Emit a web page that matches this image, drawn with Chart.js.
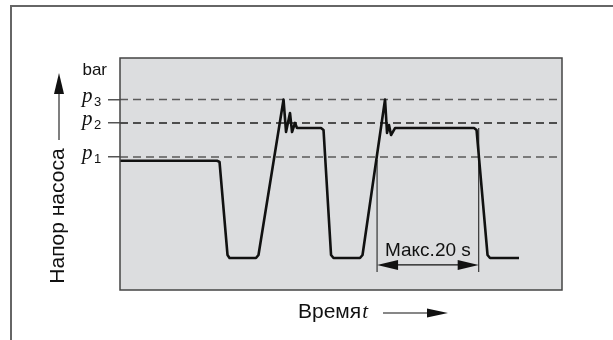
<!DOCTYPE html>
<html>
<head>
<meta charset="utf-8">
<script src="https://cdn.jsdelivr.net/npm/chart.js@4.4.0/dist/chart.umd.min.js"></script>
<style>
  html, body { margin: 0; padding: 0; background: #fff; }
  #wrap { width: 613px; height: 340px; position: relative; }
</style>
</head>
<body>
<div id="wrap"><canvas id="c"></canvas></div>
<script>
// time in s, pump head in bar (relative units)
const timeS = [0, 19.09, 19.59, 21.16, 21.56, 26.77, 27.26, 32.19, 32.68, 33.46, 33.86, 34.45, 34.84,
  39.57, 40.06, 41.54, 42.03, 47.24, 47.74, 52.17, 52.56, 52.95, 53.35, 54.13,
  69.69, 70.18, 72.34, 72.83, 78.54];
const headBar = [5.57, 5.57, 5.52, 1.51, 1.38, 1.38, 1.51, 8.21, 6.81, 7.63, 6.81, 7.20, 6.98,
  6.98, 6.90, 1.51, 1.38, 1.38, 1.51, 8.21, 6.77, 7.11, 6.68, 6.98,
  6.98, 6.90, 1.51, 1.38, 1.38];
const levelNames = ['1', '2', '3'];
const levelValues = [5.73, 7.20, 8.21];
const levelColors = ['#5a5a5a', '#1e1e1e', '#5a5a5a'];
const maxSpan = [50.6, 70.6];   // "Макс.20 s"
const maxSpanTops = [5.6, 6.98];
const xRange = [0, 87];
const yRange = [0, 10];

const levelSets = levelValues.map((v, i) => ({
  data: [{x: xRange[0], y: v}, {x: xRange[1], y: v}],
  borderColor: levelColors[i],
  borderWidth: 1.5,
  borderDash: [8, 5],
  pointRadius: 0,
  order: 3
}));
const spanSets = maxSpan.map((x, i) => ({
  data: [{x: x, y: 0.78}, {x: x, y: maxSpanTops[i]}],
  borderColor: '#333',
  borderWidth: 1.2,
  pointRadius: 0,
  order: 2
}));

function arrowHead(ctx, x, y, dir, len, half) {
  // dir: 'up', 'right', 'left'
  ctx.beginPath();
  if (dir === 'up') {
    ctx.moveTo(x, y); ctx.lineTo(x - half, y + len); ctx.lineTo(x + half, y + len);
  } else if (dir === 'right') {
    ctx.moveTo(x, y); ctx.lineTo(x - len, y - half); ctx.lineTo(x - len, y + half);
  } else {
    ctx.moveTo(x, y); ctx.lineTo(x + len, y - half); ctx.lineTo(x + len, y + half);
  }
  ctx.closePath();
  ctx.fill();
}

const diagram = {
  id: 'diagram',
  beforeDraw(chart) {
    const ctx = chart.ctx, a = chart.chartArea;
    ctx.save();
    ctx.fillStyle = '#fff';
    ctx.fillRect(0, 0, chart.width, chart.height);
    ctx.strokeStyle = '#666';
    ctx.lineWidth = 2;
    ctx.beginPath();
    ctx.moveTo(11, chart.height);
    ctx.lineTo(11, 6);
    ctx.lineTo(chart.width, 6);
    ctx.stroke();
    ctx.fillStyle = '#dcdddf';
    ctx.fillRect(a.left, a.top, a.right - a.left, a.bottom - a.top);
    ctx.restore();
  },
  afterDraw(chart) {
    const ctx = chart.ctx, a = chart.chartArea;
    const xs = chart.scales.x, ys = chart.scales.y;
    ctx.save();
    ctx.strokeStyle = '#444';
    ctx.lineWidth = 1.5;
    ctx.strokeRect(a.left, a.top, a.right - a.left, a.bottom - a.top);

    ctx.fillStyle = '#111';
    ctx.textBaseline = 'alphabetic';
    ctx.textAlign = 'right';
    ctx.font = '17px "Liberation Sans", Arial, sans-serif';
    ctx.fillText('bar', 107, a.top + 17);

    levelValues.forEach((v, i) => {
      const y = ys.getPixelForValue(v);
      ctx.textAlign = 'left';
      ctx.font = 'italic 21px "Liberation Serif", "Times New Roman", serif';
      ctx.fillText('p', 82, y + 2);
      ctx.font = '13px "Liberation Sans", Arial, sans-serif';
      ctx.fillText(levelNames[i], 94, y + 6);
    });

    // y axis title with arrow
    ctx.save();
    ctx.translate(58, 216);
    ctx.rotate(-Math.PI / 2);
    ctx.textAlign = 'center';
    ctx.textBaseline = 'middle';
    ctx.font = '21px "Liberation Sans", Arial, sans-serif';
    ctx.fillText('Напор насоса', 0, 0);
    ctx.restore();
    ctx.strokeStyle = '#555';
    ctx.lineWidth = 1.5;
    ctx.beginPath();
    ctx.moveTo(59, 140);
    ctx.lineTo(59, 90);
    ctx.stroke();
    ctx.fillStyle = '#111';
    arrowHead(ctx, 59, 73, 'up', 21, 5);

    // x axis title with arrow
    ctx.textAlign = 'left';
    ctx.textBaseline = 'alphabetic';
    ctx.font = '21px "Liberation Sans", Arial, sans-serif';
    ctx.fillText('Время', 298, 318);
    const w = ctx.measureText('Время').width;
    ctx.font = 'italic 21px "Liberation Serif", "Times New Roman", serif';
    ctx.fillText('t', 298 + w + 1, 318);
    ctx.strokeStyle = '#111';
    ctx.lineWidth = 1.2;
    ctx.beginPath();
    ctx.moveTo(383, 313);
    ctx.lineTo(432, 313);
    ctx.stroke();
    arrowHead(ctx, 448, 313, 'right', 21, 4.5);

    // max 20 s dimension
    const x0 = xs.getPixelForValue(maxSpan[0]);
    const x1 = xs.getPixelForValue(maxSpan[1]);
    const ya = ys.getPixelForValue(1.08);
    ctx.lineWidth = 1.2;
    ctx.beginPath();
    ctx.moveTo(x0 + 15, ya);
    ctx.lineTo(x1 - 15, ya);
    ctx.stroke();
    arrowHead(ctx, x0, ya, 'left', 21, 5);
    arrowHead(ctx, x1, ya, 'right', 21, 5);
    ctx.textAlign = 'center';
    ctx.font = '19px "Liberation Sans", Arial, sans-serif';
    ctx.fillText('Макс.20 s', (x0 + x1) / 2, ya - 9);
    ctx.restore();
  }
};

new Chart(document.getElementById('c'), {
  type: 'line',
  data: {
    datasets: [
      {
        data: timeS.map((t, i) => ({x: t, y: headBar[i]})),
        borderColor: '#111',
        borderWidth: 2.6,
        borderJoinStyle: 'round',
        pointRadius: 0,
        tension: 0,
        order: 1
      },
      ...levelSets,
      ...spanSets
    ]
  },
  options: {
    responsive: true,
    maintainAspectRatio: false,
    animation: false,
    layout: { padding: { left: 0, right: 51, top: 58, bottom: 50 } },
    plugins: { legend: { display: false }, tooltip: { enabled: false } },
    scales: {
      x: { type: 'linear', min: xRange[0], max: xRange[1], display: false },
      y: {
        type: 'linear',
        min: yRange[0],
        max: yRange[1],
        afterFit(scale) { scale.width = 120; },
        afterBuildTicks(scale) { scale.ticks = levelValues.map(v => ({value: v})); },
        ticks: { display: false },
        border: { display: false },
        grid: { drawOnChartArea: false, drawTicks: true, tickLength: 12, color: '#555', lineWidth: 1.5 }
      }
    }
  },
  plugins: [diagram]
});
</script>
</body>
</html>
